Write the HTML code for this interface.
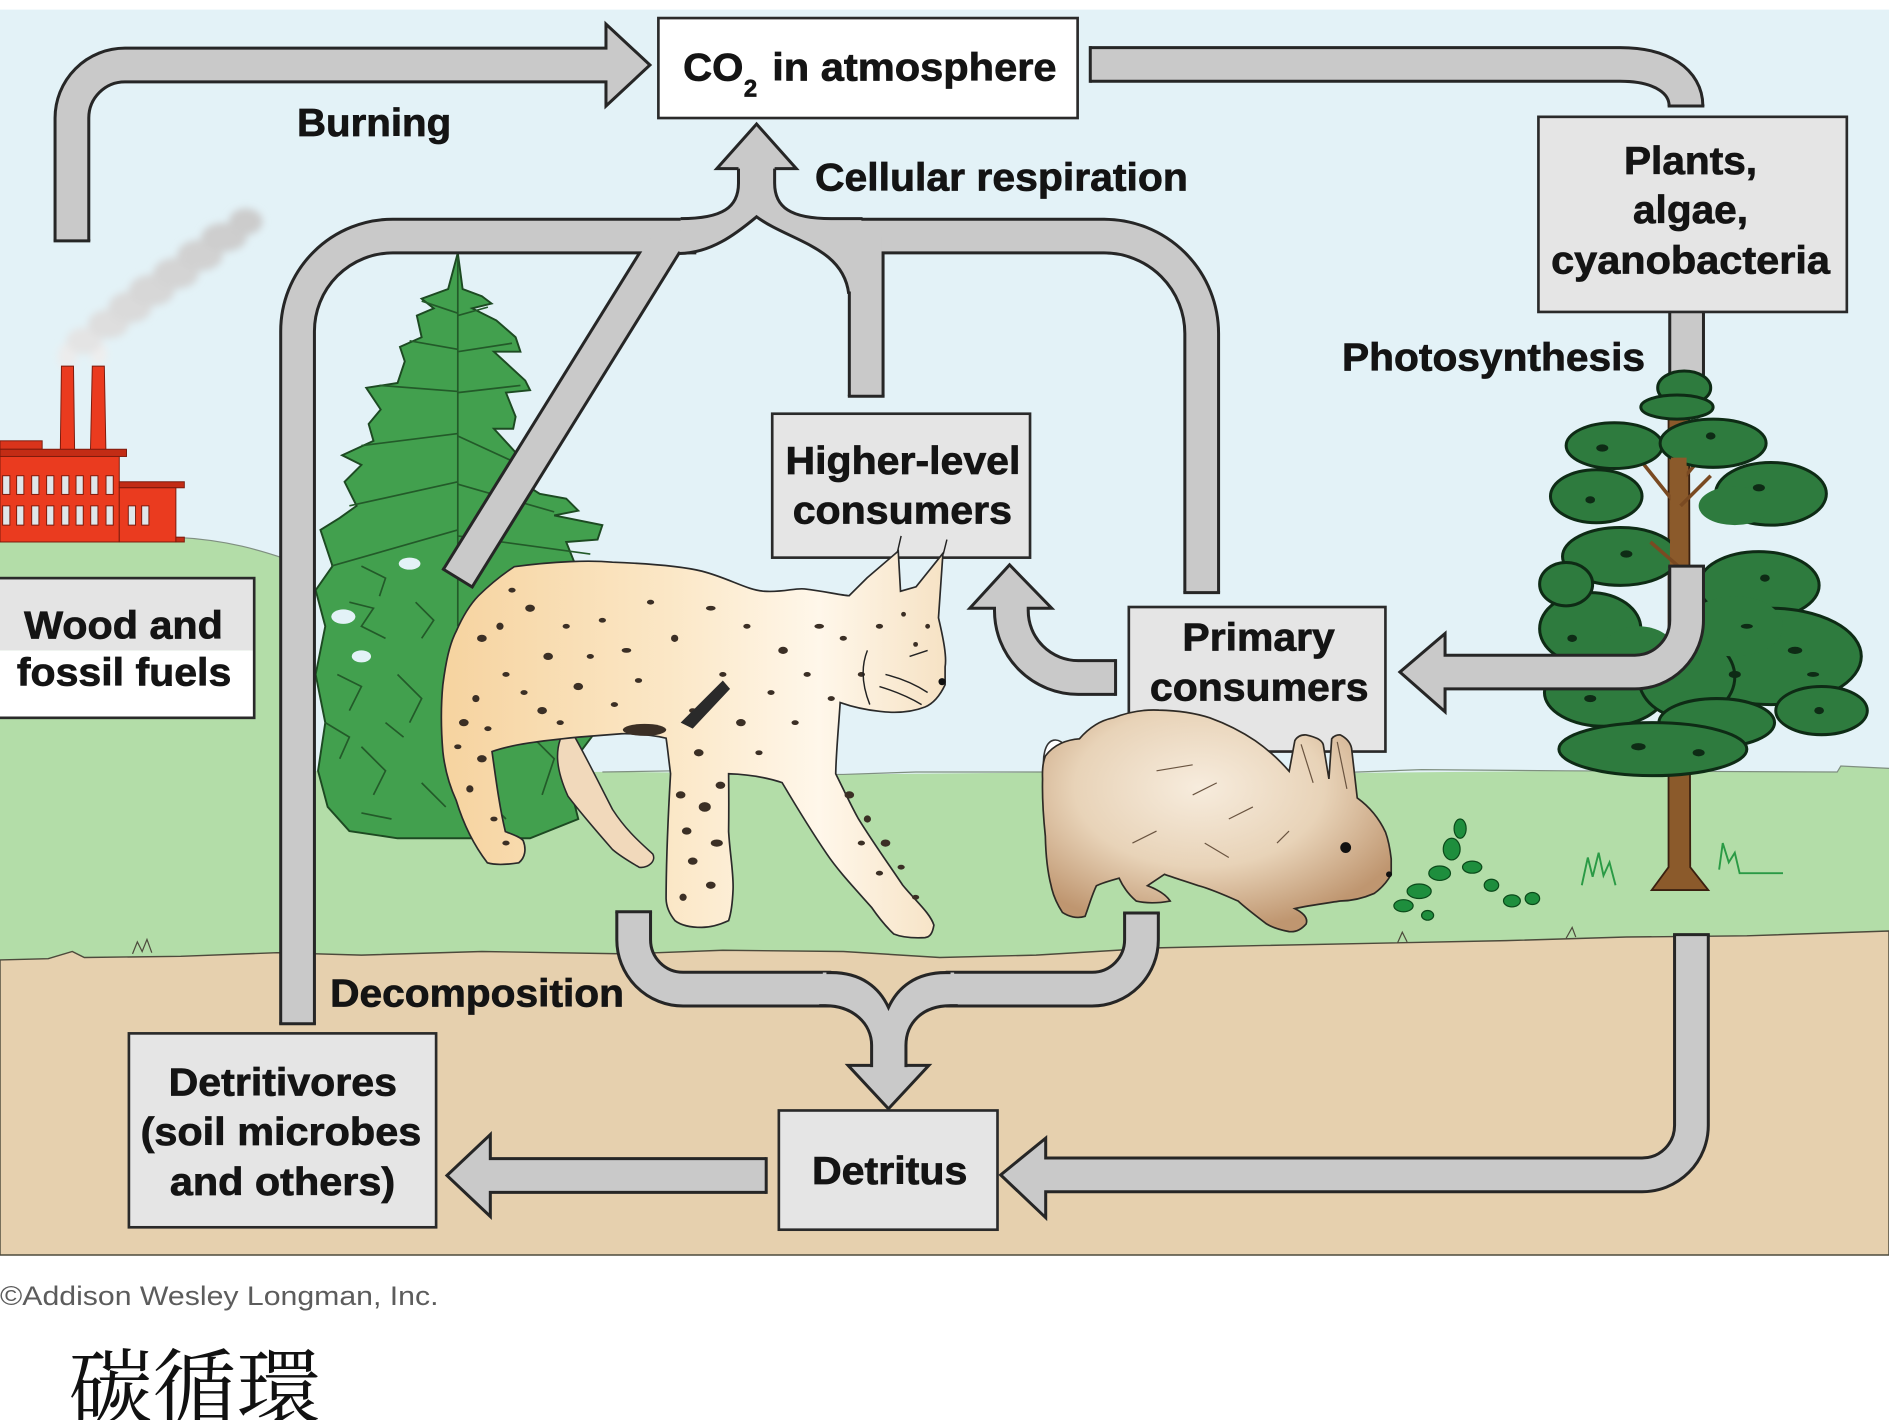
<!DOCTYPE html>
<html><head><meta charset="utf-8">
<style>
html,body{margin:0;padding:0;background:#fff;overflow:hidden;}
svg{display:block;}
.t{font-family:"Liberation Sans",Arial,sans-serif;font-weight:700;font-size:32px;fill:#141414;stroke:#141414;stroke-width:0.6px;}
</style></head><body>
<svg width="1889" height="1420" viewBox="0 0 1568 1179" preserveAspectRatio="none" xmlns="http://www.w3.org/2000/svg">
<defs>
<linearGradient id="lynxg" x1="0" y1="0" x2="1" y2="0">
<stop offset="0" stop-color="#f6d39f"/><stop offset="0.45" stop-color="#fbe7c6"/><stop offset="0.75" stop-color="#fff7ea"/><stop offset="1" stop-color="#f6e2c4"/>
</linearGradient>
<radialGradient id="rabg" cx="0.45" cy="0.35" r="0.65">
<stop offset="0" stop-color="#f7ecdd"/><stop offset="0.55" stop-color="#e8d3b8"/><stop offset="1" stop-color="#bf9670"/>
</radialGradient>
<filter id="blur" x="-20%" y="-20%" width="140%" height="140%"><feGaussianBlur stdDeviation="3"/></filter>
</defs>

<!-- background -->
<rect x="0" y="0" width="1568" height="1179" fill="#ffffff"/>
<rect x="0" y="8" width="1568" height="1034" fill="#e3f2f7"/>
<!-- grass -->
<path d="M0 446 L145 446 C185 448 215 455 262 473 L262 640 L520 641 L700 643 L900 641 L1100 642 L1300 640 L1525 641 L1528 636 L1568 638 L1568 805 L0 805 Z" fill="#b3dda8"/>
<path d="M0 446 L145 446 C185 448 215 455 262 473 M500 641 L560 640 L580 643 L700 643 L760 641 L900 641 L960 644 L1100 642 L1180 639 L1300 640 L1525 641 L1528 636 L1568 638" fill="none" stroke="#7f8f80" stroke-width="1"/>
<!-- ground -->
<path d="M0 797 L40 796 L60 790 L70 795 L150 794 L230 791 L300 793 L400 790 L520 792 L600 789 L700 790 L780 795 L860 793 L960 787 L1050 785 L1150 783 L1250 781 L1350 778 L1450 777 L1568 773 L1568 1042 L0 1042 Z" fill="#e6d0ae" stroke="#4d4a3c" stroke-width="1.2"/>
<path d="M110 792 L114 782 L118 790 L122 780 L126 791 M1160 783 L1164 774 L1168 782 M1300 779 L1305 770 L1308 778" fill="none" stroke="#4d4a3c" stroke-width="1"/>

<!-- smoke -->
<g filter="url(#blur)">
<ellipse cx="56" cy="296" rx="8" ry="11" fill="#ececec"/>
<ellipse cx="82" cy="294" rx="7" ry="10" fill="#eeeeee"/>
<ellipse cx="70" cy="283" rx="15" ry="11" fill="#e4e4e4"/>
<ellipse cx="90" cy="269" rx="17" ry="12" fill="#dedede"/>
<ellipse cx="108" cy="255" rx="18" ry="13" fill="#dadada"/>
<ellipse cx="126" cy="241" rx="19" ry="13" fill="#d7d7d7"/>
<ellipse cx="146" cy="227" rx="19" ry="13" fill="#d4d4d4"/>
<ellipse cx="166" cy="212" rx="19" ry="13" fill="#d1d1d1"/>
<ellipse cx="186" cy="197" rx="19" ry="12" fill="#cecece"/>
<ellipse cx="204" cy="184" rx="14" ry="11" fill="#cccccc"/>
</g>
<!-- factory -->
<g stroke="#7a1a0c" stroke-width="0.8">
<polygon points="50,379 62,379 61,304 51,304" fill="#ea3b1f"/>
<polygon points="75,379 88,379 86.6,304 76.6,304" fill="#ea3b1f"/>
<rect x="0" y="366" width="35" height="7" fill="#d9341b"/>
<rect x="0" y="373" width="105" height="6" fill="#c22c15"/>
<rect x="0" y="379" width="99" height="71" fill="#ea3b1f"/>
<rect x="99" y="400" width="54" height="5" fill="#c22c15"/>
<rect x="99" y="405" width="47" height="45" fill="#ea3b1f"/>
<rect x="146" y="446" width="7" height="4" fill="#c22c15"/>
</g>
<g fill="#dfe6ea" stroke="#7a1a0c" stroke-width="0.8">
<rect x="2.2" y="395" width="6" height="15.5"/><rect x="13.8" y="395" width="6" height="15.5"/><rect x="26.3" y="395" width="6" height="15.5"/><rect x="38.7" y="395" width="6" height="15.5"/><rect x="51.2" y="395" width="6" height="15.5"/><rect x="63.1" y="395" width="6" height="15.5"/><rect x="75.3" y="395" width="6" height="15.5"/><rect x="88" y="395" width="6" height="15.5"/>
<rect x="2.2" y="420" width="6" height="16"/><rect x="13.8" y="420" width="6" height="16"/><rect x="26.3" y="420" width="6" height="16"/><rect x="38.7" y="420" width="6" height="16"/><rect x="51.2" y="420" width="6" height="16"/><rect x="63.1" y="420" width="6" height="16"/><rect x="75.3" y="420" width="6" height="16"/><rect x="88" y="420" width="6" height="16"/>
<rect x="106.5" y="420" width="6" height="16"/><rect x="117.6" y="420" width="6" height="16"/>
</g>

<!-- left conifer -->
<path d="M380 210 L384 240 L400 246 L408 252 L392 256 L412 266 L428 280 L432 292 L410 292 L436 316 L440 324 L420 326 L428 346 L426 356 L410 356 L432 380 L440 392 L420 392 L448 410 L470 414 L480 424 L460 428 L500 436 L496 448 L470 450 L478 470 L470 480 L490 500 L470 520 L480 560 L500 600 L470 640 L480 680 L440 696 L330 696 L290 690 L272 670 L264 640 L270 600 L262 560 L270 520 L262 490 L276 470 L266 440 L282 430 L296 420 L286 400 L300 386 L284 378 L310 366 L306 352 L316 340 L304 322 L330 318 L336 300 L332 288 L350 280 L346 262 L360 256 L350 248 L372 240 Z" fill="#42a04e" stroke="#1d4a22" stroke-width="1.6"/>
<g fill="none" stroke="#235a29" stroke-width="1.4">
<path d="M380 214 L380 520"/>
<path d="M380 260 L350 250 M380 262 L405 255 M380 290 L340 283 M380 292 L425 285 M380 325 L315 320 M380 326 L432 320 M380 360 L300 370 M380 362 L430 385 M380 400 L290 420 M380 402 L460 425 M380 440 L275 470 M380 445 L490 460"/>
<path d="M290 500 L310 505 L300 520 L320 530 M280 560 L300 570 L290 590 M300 620 L320 640 L310 660 M330 560 L350 580 L340 600 M420 540 L440 560 L430 580 M440 610 L460 630 L450 660 M350 650 L370 670 M400 660 L420 680"/>
<path d="M300 470 L320 480 L315 495 M345 500 L360 515 L350 530 M270 600 L290 612 L282 630 M320 600 L335 612 M300 675 L325 680 M420 600 L438 612 M455 560 L470 575 M395 575 L410 590 L400 605"/>
</g>
<ellipse cx="285" cy="512" rx="10" ry="6" fill="#e3f2f7"/>
<ellipse cx="300" cy="545" rx="8" ry="5" fill="#e3f2f7"/>
<ellipse cx="340" cy="468" rx="9" ry="5" fill="#e3f2f7"/>

<!-- photosynthesis stub (behind tree) -->
<path d="M1400 259 L1400 345" stroke="#262626" stroke-width="30.5" fill="none"/>
<path d="M1400 259 L1400 345" stroke="#c9c9c9" stroke-width="25.5" fill="none"/>

<!-- right tree -->
<polygon points="1385,330 1402,330 1403,720 1418,739 1371,739 1385,720" fill="#8b5a2b" stroke="#3a2010" stroke-width="1.5"/>
<path d="M1392 420 L1360 380 M1395 400 L1422 368 M1393 470 L1370 450" stroke="#7a4a22" stroke-width="3" fill="none"/>
<g fill="#2e7b3e" stroke="#0e2b15" stroke-width="2.5">
<ellipse cx="1398" cy="322" rx="22" ry="14"/>
<ellipse cx="1392" cy="338" rx="30" ry="10"/>
<ellipse cx="1340" cy="370" rx="40" ry="19"/>
<ellipse cx="1422" cy="368" rx="44" ry="20"/>
<ellipse cx="1325" cy="412" rx="38" ry="22"/>
<ellipse cx="1470" cy="410" rx="46" ry="26"/>
<ellipse cx="1345" cy="462" rx="48" ry="24"/>
<ellipse cx="1460" cy="486" rx="50" ry="28"/>
<ellipse cx="1320" cy="522" rx="42" ry="30"/>
<ellipse cx="1470" cy="545" rx="75" ry="40"/>
<ellipse cx="1332" cy="575" rx="50" ry="28"/>
<ellipse cx="1400" cy="562" rx="40" ry="34"/>
<ellipse cx="1512" cy="590" rx="38" ry="20"/>
<ellipse cx="1300" cy="485" rx="22" ry="18"/>
<ellipse cx="1425" cy="600" rx="48" ry="20"/>
<ellipse cx="1372" cy="622" rx="78" ry="22"/>
</g>
<g fill="#2e7b3e">
<ellipse cx="1440" cy="420" rx="30" ry="16"/>
<ellipse cx="1440" cy="520" rx="40" ry="25"/>
<ellipse cx="1360" cy="540" rx="30" ry="20"/>
</g>
<polygon points="1387,380 1400,380 1400,470 1386,470" fill="#8b5a2b"/>
<path d="M1393 470 L1370 450 M1395 420 L1420 395" stroke="#7a4a22" stroke-width="3" fill="none"/>
<g fill="#0e2b15">
<ellipse cx="1330" cy="372" rx="5" ry="3"/><ellipse cx="1420" cy="362" rx="4" ry="3"/><ellipse cx="1460" cy="405" rx="5" ry="3"/><ellipse cx="1320" cy="415" rx="4" ry="3"/>
<ellipse cx="1350" cy="460" rx="5" ry="3"/><ellipse cx="1465" cy="480" rx="4" ry="3"/><ellipse cx="1490" cy="540" rx="6" ry="3"/><ellipse cx="1440" cy="560" rx="5" ry="3"/>
<ellipse cx="1320" cy="580" rx="5" ry="3"/><ellipse cx="1360" cy="620" rx="6" ry="3"/><ellipse cx="1410" cy="625" rx="5" ry="3"/><ellipse cx="1510" cy="590" rx="4" ry="3"/>
<ellipse cx="1450" cy="520" rx="5" ry="2"/><ellipse cx="1505" cy="560" rx="5" ry="2"/><ellipse cx="1305" cy="530" rx="4" ry="3"/>
</g>

<!-- small plant and grass tufts -->
<g fill="#1e8e3d" stroke="#0b4a1a" stroke-width="1">
<ellipse cx="1178" cy="740" rx="10" ry="6"/><ellipse cx="1165" cy="752" rx="8" ry="5"/><ellipse cx="1195" cy="725" rx="9" ry="6"/>
<ellipse cx="1205" cy="705" rx="7" ry="9"/><ellipse cx="1212" cy="688" rx="5" ry="8"/><ellipse cx="1222" cy="720" rx="8" ry="5"/>
<ellipse cx="1238" cy="735" rx="6" ry="5"/><ellipse cx="1255" cy="748" rx="7" ry="5"/><ellipse cx="1272" cy="746" rx="6" ry="5"/><ellipse cx="1185" cy="760" rx="5" ry="4"/>
</g>
<path d="M1313 735 L1318 712 L1322 728 L1327 708 L1331 727 L1336 716 L1341 735 M1427 722 L1430 700 L1435 716 L1440 708 L1444 725 L1480 725" fill="none" stroke="#2a9a45" stroke-width="1.6"/>

<!-- ARROWS: dark strokes -->
<g fill="none" stroke="#262626" stroke-width="30.5">
<path d="M59.7 200 L59.7 98 A44 44 0 0 1 103.7 54 L508 54"/>
<path d="M905 53.5 L1345 53.5 C1380 53.5 1399.5 68 1399.5 88"/>
<path d="M247 850 L247 275 A79 79 0 0 1 326 196 L578 196"/>
<path d="M997.5 492 L997.5 277 A81 81 0 0 0 916.5 196 L690 196"/>
<path d="M719 329 L719 196"/>
<path d="M380 480 L556 196"/>
<path d="M1400 470 L1400 515 A43 43 0 0 1 1357 558 L1196 558"/>
<path d="M926 562.5 L895 562.5 A55.5 55.5 0 0 1 839.5 507 L839.5 502"/>
<path d="M526 757 L526 780 A41 41 0 0 0 567 821.25 L690 821.25"/>
<path d="M947.5 758 L947.5 780 A41 41 0 0 1 906.5 821.25 L785 821.25"/>
<path d="M1404 776 L1404 934.5 A41 41 0 0 1 1363 975.5 L864 975.5"/>
<path d="M636 976 L403 976"/>
</g>
<!-- heads -->
<g fill="#c9c9c9" stroke="#262626" stroke-width="2.5" stroke-linejoin="miter">
<polygon points="503,20 539.5,54 503,88"/>
<polygon points="595,140 628,103 661,140"/>
<polygon points="1199.5,526 1162,558 1199.5,591"/>
<polygon points="805,505 838,469 873,505"/>
<polygon points="704,884.6 737.5,920.6 771,884.6"/>
<polygon points="868,945 830.6,975.5 868,1011"/>
<polygon points="407,942 371,976 407,1010"/>
</g>
<!-- gray strokes -->
<g fill="none" stroke="#c9c9c9" stroke-width="25.5">
<path d="M59.7 200 L59.7 98 A44 44 0 0 1 103.7 54 L508 54"/>
<path d="M905 53.5 L1345 53.5 C1380 53.5 1399.5 68 1399.5 88"/>
<path d="M247 850 L247 275 A79 79 0 0 1 326 196 L578 196"/>
<path d="M997.5 492 L997.5 277 A81 81 0 0 0 916.5 196 L690 196"/>
<path d="M719 329 L719 196"/>
<path d="M380 480 L556 196"/>
<path d="M1400 470 L1400 515 A43 43 0 0 1 1357 558 L1196 558"/>
<path d="M926 562.5 L895 562.5 A55.5 55.5 0 0 1 839.5 507 L839.5 502"/>
<path d="M526 757 L526 780 A41 41 0 0 0 567 821.25 L690 821.25"/>
<path d="M947.5 758 L947.5 780 A41 41 0 0 1 906.5 821.25 L785 821.25"/>
<path d="M1404 776 L1404 934.5 A41 41 0 0 1 1363 975.5 L864 975.5"/>
<path d="M636 976 L403 976"/>
</g>
<!-- junction fills -->
<path d="M565 181.5 C600 181.5 613 172 613 152 L613 136 L643 136 L643 152 C643 172 656 181.5 690 181.5 L715 181.5 L715 242 L704.5 242 C700 205 655 200 628 180 C610 195 590 210 564 210 Z" fill="#c9c9c9"/>
<path d="M683 807.5 L690 807.5 C715 807.5 730 820 737.5 836.5 C745 820 760 807.5 785 807.5 L792 807.5 L792 835 L789 835 C765 835 752 850 752 868 L752 888 L723.5 888 L723.5 868 C723.5 850 708 835 685 835 L683 835 Z" fill="#c9c9c9"/>
<!-- junction outlines and caps -->
<g fill="none" stroke="#262626" stroke-width="2.5">
<path d="M565 181.5 C600 181.5 613 172 613 152 L613 140"/>
<path d="M643 140 L643 152 C643 172 656 181.5 690 181.5 L716 181.5"/>
<path d="M564 210.5 C590 210 610 195 628 180 C655 200 700 205 704.5 244"/>
<path d="M686 807.5 L690 807.5 C715 807.5 730 820 737.5 836.5 C745 820 760 807.5 785 807.5 L789 807.5"/>
<path d="M680 835 L685 835 C708 835 723.5 850 723.5 868 L723.5 886"/>
<path d="M795 835 L789 835 C765 835 752 850 752 868 L752 886"/>
<path d="M44.45 200 L74.95 200"/>
<path d="M905 38.25 L905 68.75"/>
<path d="M1384.25 88 L1414.75 88"/>
<path d="M231.75 850 L262.25 850"/>
<path d="M367 472 L393 488"/>
<path d="M703.75 329 L734.25 329"/>
<path d="M982.25 492 L1012.75 492"/>
<path d="M1384.75 470 L1415.25 470"/>
<path d="M926 547.25 L926 577.75"/>
<path d="M510.75 757 L541.25 757"/>
<path d="M932.25 758 L962.75 758"/>
<path d="M1388.75 776 L1419.25 776"/>
<path d="M636 960.75 L636 991.25"/>
</g>

<!-- boxes -->
<g stroke="#2a2a2a" stroke-width="2.2">
<rect x="546.5" y="15" width="348" height="83" fill="#ffffff"/>
<rect x="1277" y="97" width="256" height="162" fill="#e5e5e5"/>
<rect x="641" y="343.5" width="214" height="119.5" fill="#e5e5e5"/>
<rect x="937" y="504" width="213" height="120" fill="#e5e5e5"/>
<rect x="107" y="858" width="255" height="161" fill="#e5e5e5"/>
<rect x="646.5" y="922" width="181.5" height="99" fill="#e5e5e5"/>
</g>
<rect x="0" y="480" width="211" height="60" fill="#e4e4e4"/>
<rect x="0" y="540" width="211" height="56" fill="#ffffff"/>
<rect x="-2" y="480" width="213" height="116" fill="none" stroke="#2a2a2a" stroke-width="2.2"/>

<!-- lynx -->
<path d="M471.4 601.8 C485 625 497 650 508.4 672 C520 690 532 700 541.8 709 C545 715 538 721 530.6 720.1 C522 715 515 711 508.4 705.3 C495 690 482 675 471.4 661 C462 640 458 620 471.4 601.8 Z" fill="#f1d9bb" stroke="#2a2a2a" stroke-width="1.3"/>
<path d="M426.9 470.5 C460 466 490 465 508.4 466.8 C540 468 565 470 582.5 474.2 C605 480 620 490 634.4 490.9 C650 492 660 488 667.8 489 C685 491 697 494 704.8 494.6 L719.7 479.8 L745.6 457.6 L747.5 490.9 L760.4 487.2 L782.7 459.4 L779 513 C783 530 786 545 784.5 553.7 L784.5 568.5 C780 578 775 584 767.8 587 C755 592 742 592 730.8 590.7 C715 589 705 586 697.4 583.3 C696 605 694 625 693.7 642.4 C700 655 706 668 712.3 679.4 C725 700 738 718 749.3 734.9 C760 748 772 758 775.2 768.1 C774 775 772 778 767.8 778.5 C758 779 748 778 741.9 775.5 C734 768 728 760 723.4 753.3 C708 736 695 722 686.3 709 C672 688 660 668 649.2 649.8 C635 645 620 643 604.8 642.4 C605 660 605 675 604.8 690.5 C606 710 609 725 608.5 738.5 C608 750 607 758 604.8 764.4 C597 768 590 770 582.5 770 C573 770 565 768 560.3 764.4 C555 758 553 752 552.9 746 C553 710 555 670 556.6 642.4 C555 630 554 620 552.9 612.9 C540 610 528 609 515.8 609.2 L480 612 C450 615 425 618 408.4 624 C412 650 415 672 419.5 690.5 C426 693 432 695 434.3 698 C437 705 436 712 430.6 716.4 C420 718 410 718 404.6 716.4 C392 700 384 682 378.7 664.6 C372 650 369 637 367.6 624 C366 605 366 585 367.6 568.5 C370 550 373 535 378.7 524.1 C384 512 390 502 397.2 494.6 C407 485 417 477 426.9 470.5 Z" fill="url(#lynxg)" stroke="#2a2a2a" stroke-width="1.4"/>
<g fill="#3b2f25">
<ellipse cx="440" cy="505" rx="4" ry="3"/><ellipse cx="470" cy="520" rx="3" ry="2"/><ellipse cx="455" cy="545" rx="4" ry="3"/><ellipse cx="500" cy="515" rx="3" ry="2"/><ellipse cx="520" cy="540" rx="4" ry="2"/><ellipse cx="540" cy="500" rx="3" ry="2"/><ellipse cx="560" cy="530" rx="3" ry="3"/><ellipse cx="590" cy="505" rx="4" ry="2"/><ellipse cx="620" cy="520" rx="3" ry="2"/><ellipse cx="650" cy="540" rx="4" ry="3"/><ellipse cx="600" cy="560" rx="3" ry="2"/><ellipse cx="480" cy="570" rx="4" ry="3"/><ellipse cx="510" cy="585" rx="3" ry="2"/><ellipse cx="450" cy="590" rx="4" ry="3"/><ellipse cx="420" cy="560" rx="3" ry="2"/><ellipse cx="400" cy="530" rx="4" ry="3"/><ellipse cx="395" cy="580" rx="3" ry="3"/><ellipse cx="640" cy="575" rx="3" ry="2"/><ellipse cx="670" cy="560" rx="3" ry="2"/><ellipse cx="680" cy="520" rx="4" ry="2"/><ellipse cx="700" cy="530" rx="3" ry="2"/><ellipse cx="715" cy="560" rx="3" ry="2"/>
<ellipse cx="425" cy="490" rx="3" ry="2"/><ellipse cx="415" cy="520" rx="3" ry="3"/><ellipse cx="435" cy="575" rx="3" ry="2"/><ellipse cx="465" cy="600" rx="3" ry="2"/><ellipse cx="490" cy="545" rx="3" ry="2"/><ellipse cx="530" cy="565" rx="3" ry="2"/><ellipse cx="575" cy="590" rx="3" ry="2"/><ellipse cx="615" cy="600" rx="4" ry="3"/><ellipse cx="660" cy="600" rx="3" ry="2"/><ellipse cx="690" cy="580" rx="3" ry="2"/><ellipse cx="630" cy="625" rx="3" ry="2"/><ellipse cx="580" cy="625" rx="4" ry="3"/><ellipse cx="405" cy="605" rx="3" ry="2"/>
<ellipse cx="565" cy="660" rx="4" ry="3"/><ellipse cx="585" cy="670" rx="5" ry="4"/><ellipse cx="570" cy="690" rx="4" ry="3"/><ellipse cx="595" cy="700" rx="5" ry="3"/><ellipse cx="575" cy="715" rx="4" ry="3"/><ellipse cx="590" cy="735" rx="4" ry="3"/><ellipse cx="567" cy="745" rx="3" ry="3"/><ellipse cx="598" cy="652" rx="4" ry="3"/>
<ellipse cx="705" cy="660" rx="4" ry="3"/><ellipse cx="720" cy="680" rx="3" ry="3"/><ellipse cx="735" cy="700" rx="4" ry="3"/><ellipse cx="748" cy="720" rx="3" ry="2"/><ellipse cx="760" cy="745" rx="3" ry="2"/><ellipse cx="715" cy="700" rx="3" ry="2"/><ellipse cx="730" cy="725" rx="3" ry="2"/>
<ellipse cx="385" cy="600" rx="4" ry="3"/><ellipse cx="400" cy="630" rx="4" ry="3"/><ellipse cx="390" cy="655" rx="3" ry="3"/><ellipse cx="410" cy="680" rx="3" ry="2"/><ellipse cx="420" cy="700" rx="3" ry="2"/><ellipse cx="380" cy="620" rx="3" ry="2"/>
<ellipse cx="730" cy="520" rx="3" ry="2"/><ellipse cx="750" cy="510" rx="2" ry="2"/><ellipse cx="760" cy="535" rx="2" ry="2"/><ellipse cx="770" cy="520" rx="2" ry="2"/>
<ellipse cx="535" cy="606" rx="18" ry="5"/>
</g>
<path d="M565 600 L600 565 L606 572 L575 605 Z" fill="#2a2a2a"/>
<path d="M735 560 Q755 565 770 575 M730 570 Q750 576 765 585 M720 540 Q712 560 722 585 M745 458 L748 445 M783 460 L786 448 M755 545 L770 540" fill="none" stroke="#222" stroke-width="1.2"/>
<circle cx="782" cy="566" r="3" fill="#111"/>

<!-- rabbit -->
<ellipse cx="880" cy="640" rx="13" ry="26" transform="rotate(-12 880 640)" fill="#ffffff" stroke="#333" stroke-width="1.3"/>
<path d="M867.7 627.7 C875 618 886 614 896 613.4 C905 603 914 598 924.2 596 C937 591 950 589 961.9 589.6 C978 590 992 592 1004.2 596 C1018 601 1030 607 1041.9 615 C1052 622 1062 631 1070.1 640.4 L1074.8 615 C1077 611 1081 610 1084.2 610.2 C1092 612 1097 614 1098.4 618.2 L1103.1 646.7 L1105.4 613.4 C1107 611 1110 610 1112.5 610.2 C1118 613 1121 617 1121.9 621.3 L1126.6 662.5 C1137 670 1145 680 1150.1 691 C1153 699 1154 706 1154.8 713.2 L1154.8 725.9 C1151 733 1146 738 1140.7 741.8 C1131 746 1121 748 1112.5 748.1 C1100 750 1085 752 1074.8 754.4 C1082 758 1086 762 1084.2 767.1 C1080 772 1075 774 1070.1 773.5 C1062 772 1056 770 1051.3 767.1 C1042 760 1034 754 1027.7 748.1 C1016 743 1005 738 994.8 735.4 C985 732 975 729 966.6 725.9 L952.5 735.4 C962 739 968 743 971.3 748.1 C961 750 951 750 943.1 748.1 C936 742 932 736 928.9 729.1 C922 731 915 733 910.1 735.4 C906 744 904 752 900.7 760.8 C894 763 887 761 881.9 757.6 C877 750 874 743 872.5 735.4 C869 722 868 708 867.7 694.2 C866 678 865 662 865.4 646.7 C865 638 866 632 867.7 627.7 Z" fill="url(#rabg)" stroke="#2e2a25" stroke-width="1.4"/>
<path d="M1080 618 L1090 650 M1110 616 L1118 655 M960 640 L990 635 M990 660 L1010 650 M1020 680 L1040 670 M940 700 L960 690 M1000 700 L1020 712 M1060 700 L1070 690" fill="none" stroke="#6a5440" stroke-width="1"/>
<circle cx="1117" cy="703.7" r="4.5" fill="#111"/>
<circle cx="1153" cy="726" r="2.5" fill="#111"/>

<!-- text labels -->
<text class="t" x="246.5" y="113" textLength="128" lengthAdjust="spacingAndGlyphs">Burning</text>
<text class="t" x="676.5" y="158" textLength="309.5" lengthAdjust="spacingAndGlyphs">Cellular respiration</text>
<text class="t" x="1114" y="307.5" textLength="251.5" lengthAdjust="spacingAndGlyphs">Photosynthesis</text>
<text class="t" x="274" y="835.5" textLength="244" lengthAdjust="spacingAndGlyphs">Decomposition</text>
<text class="t" x="567" y="67" textLength="50" lengthAdjust="spacingAndGlyphs">CO</text>
<text class="t" x="617.5" y="80" style="font-size:20px" textLength="11" lengthAdjust="spacingAndGlyphs">2</text>
<text class="t" x="641" y="67" textLength="236" lengthAdjust="spacingAndGlyphs">in atmosphere</text>
<text class="t" x="1348" y="144.5" textLength="110.5" lengthAdjust="spacingAndGlyphs">Plants,</text>
<text class="t" x="1355.5" y="185" textLength="95.5" lengthAdjust="spacingAndGlyphs">algae,</text>
<text class="t" x="1287.5" y="227" textLength="231.5" lengthAdjust="spacingAndGlyphs">cyanobacteria</text>
<text class="t" x="652" y="393.5" textLength="195" lengthAdjust="spacingAndGlyphs">Higher-level</text>
<text class="t" x="658" y="434.5" textLength="182" lengthAdjust="spacingAndGlyphs">consumers</text>
<text class="t" x="981.5" y="540" textLength="126.5" lengthAdjust="spacingAndGlyphs">Primary</text>
<text class="t" x="954.5" y="581.5" textLength="181.5" lengthAdjust="spacingAndGlyphs">consumers</text>
<text class="t" x="20" y="530" textLength="165" lengthAdjust="spacingAndGlyphs">Wood and</text>
<text class="t" x="14" y="569" textLength="178" lengthAdjust="spacingAndGlyphs">fossil fuels</text>
<text class="t" x="140" y="909.5" textLength="189.5" lengthAdjust="spacingAndGlyphs">Detritivores</text>
<text class="t" x="116.7" y="950.5" textLength="233" lengthAdjust="spacingAndGlyphs">(soil microbes</text>
<text class="t" x="141" y="992" textLength="187" lengthAdjust="spacingAndGlyphs">and others)</text>
<text class="t" x="674" y="983" textLength="129" lengthAdjust="spacingAndGlyphs">Detritus</text>

<text x="0" y="1083.5" font-family="'Liberation Sans',Arial,sans-serif" font-size="22" fill="#5c5c5c" textLength="364" lengthAdjust="spacingAndGlyphs">©Addison Wesley Longman, Inc.</text>
<text x="57" y="1177" font-family="'Liberation Serif','Noto Serif CJK SC','Noto Sans CJK TC',serif" font-size="69" fill="#111" textLength="209" lengthAdjust="spacingAndGlyphs">碳循環</text>
</svg>
</body></html>
